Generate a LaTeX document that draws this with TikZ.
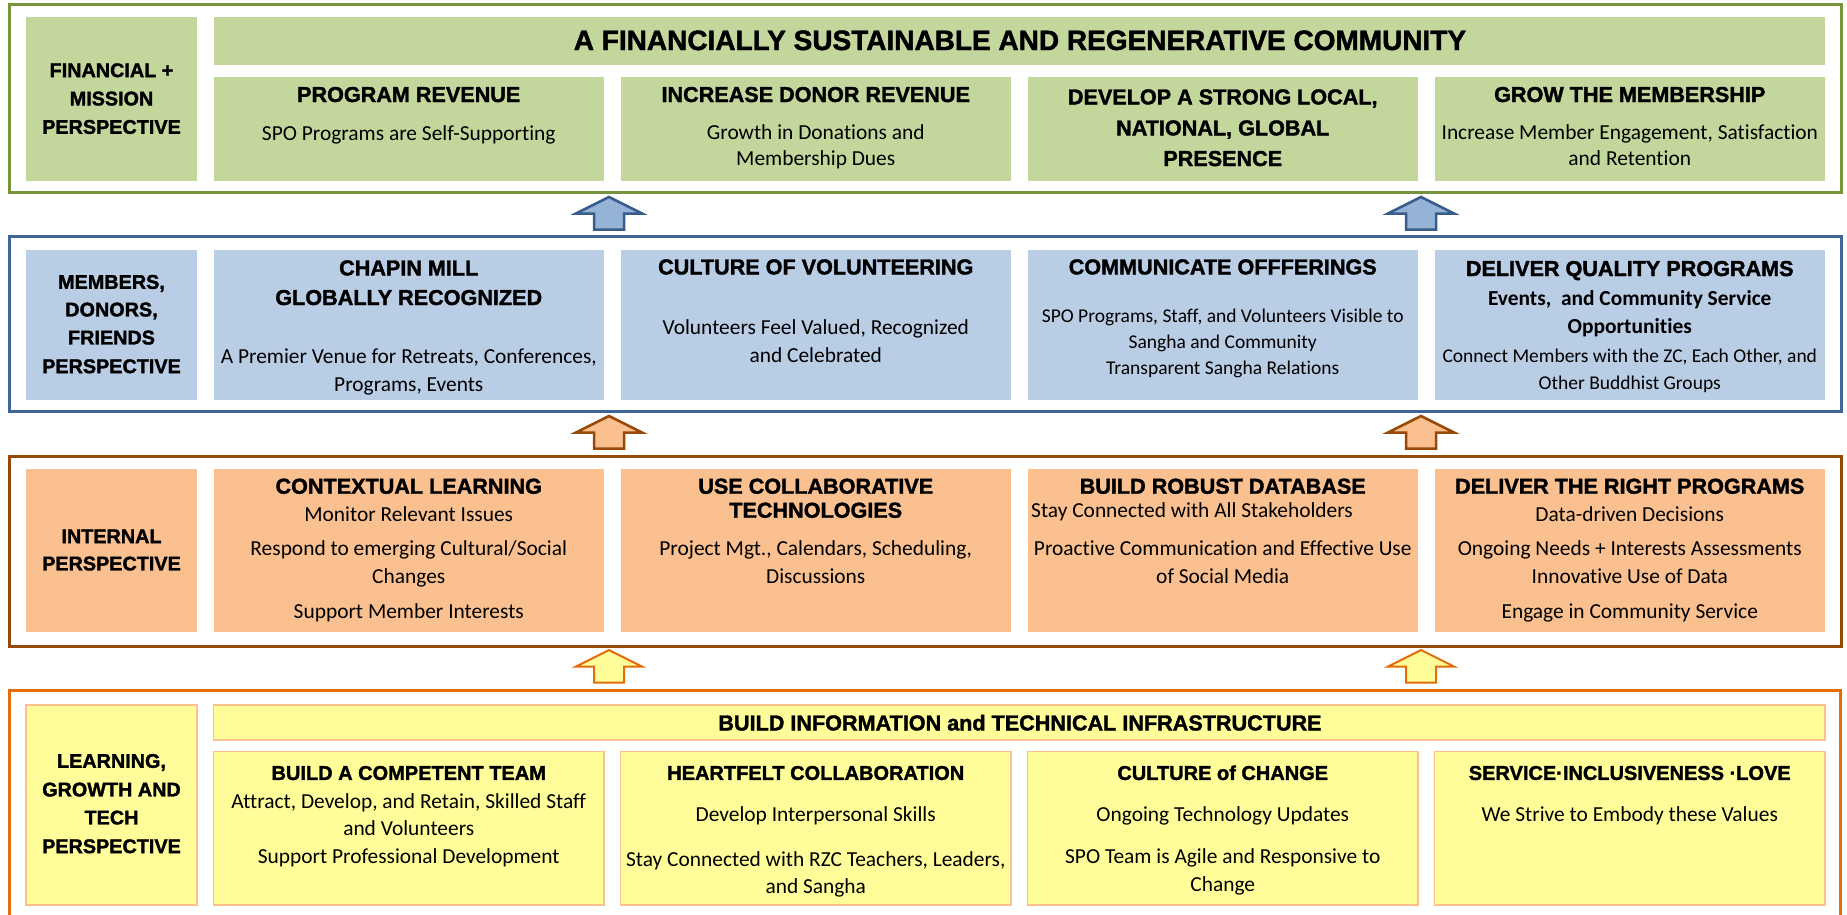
\documentclass[tikz,border=0pt]{standalone}
\usepackage{fontspec}
\setmainfont{Carlito}[Ligatures={NoCommon}]
\newfontfamily\hdfont{Liberation Sans}[BoldFeatures={FakeBold=1.6}]

\definecolor{grnFrame}{HTML}{77933C}
\definecolor{grnFill}{HTML}{C3D69B}
\definecolor{bluFrame}{HTML}{3E6696}
\definecolor{bluFill}{HTML}{B9CDE5}
\definecolor{bluArrow}{HTML}{95B3D7}
\definecolor{bluArrowLine}{HTML}{385D8A}
\definecolor{brnFrame}{HTML}{984807}
\definecolor{orgFill}{HTML}{FAC090}
\definecolor{ylwFrame}{HTML}{E46C0A}
\definecolor{ylwFill}{HTML}{FFFD99}
\definecolor{ylwEdge}{HTML}{FAC090}

\tikzset{
  frame/.style={line width=3pt},
  cell/.style={anchor=north west, inner sep=0pt, outer sep=0pt, minimum width=#1},
  lbl/.style={font=\hdfont\bfseries\fontsize{19.8}{24}\selectfont, anchor=base, yshift=-7.1pt, inner sep=0pt},
  hd/.style={font=\hdfont\bfseries\fontsize{21.6}{26}\selectfont, anchor=base, yshift=-7.7pt, inner sep=0pt},
  hdsm/.style={font=\hdfont\bfseries\fontsize{20}{24}\selectfont, anchor=base, yshift=-7.2pt, inner sep=0pt},
  ttl/.style={font=\hdfont\bfseries\fontsize{28}{32}\selectfont, anchor=base, yshift=-10pt, inner sep=0pt},
  bd/.style={font=\fontsize{21.4}{26}\selectfont, anchor=base, yshift=-6.5pt, inner sep=0pt},
  bdsm/.style={font=\fontsize{19.5}{24}\selectfont, anchor=base, yshift=-6pt, inner sep=0pt},
  bdb/.style={font=\bfseries\fontsize{21.4}{26}\selectfont, anchor=base, yshift=-6.5pt, inner sep=0pt},
  blockup/.pic={\path[pic actions] (0,0) -- (33,16.5) -- (15,16.5) -- (15,32.5)
      -- (-15,32.5) -- (-15,16.5) -- (-33,16.5) -- cycle;},
  upblue/.style={draw=bluArrowLine, fill=bluArrow, line width=2.5pt, line join=miter},
  uporange/.style={draw=brnFrame, fill=orgFill, line width=2.5pt, line join=miter},
  upyellow/.style={draw=ylwFrame, fill=ylwFill, line width=2pt, line join=miter},
}

\begin{document}
\begin{tikzpicture}[x=1pt,y=-1pt]
\useasboundingbox (0,0) rectangle (1847,914);
\fill[white] (0,0) rectangle (1847,914);

% column edges: label 26-197, four columns of 390.5 starting at 213.5 with a pitch of 407
% ---------------- financial + mission -----------------
\draw[frame, draw=grnFrame] (9,4) rectangle (1841,192.7);
\node[cell=171pt, minimum height=164pt, fill=grnFill] (fL) at (26,16.7) {};
\node[cell=1611.5pt, minimum height=48pt, fill=grnFill] (fT) at (213.5,16.7) {};
\node[cell=390.5pt, minimum height=103.7pt, fill=grnFill] (f1) at (213.5,77) {};
\node[cell=390.5pt, minimum height=103.7pt, fill=grnFill] (f2) at (620.5,77) {};
\node[cell=390.5pt, minimum height=103.7pt, fill=grnFill] (f3) at (1027.5,77) {};
\node[cell=390.5pt, minimum height=103.7pt, fill=grnFill] (f4) at (1434.5,77) {};

\node[lbl] (fLa) at (111.5,70) {FINANCIAL +};
\node[lbl] (fLb) at (111.5,98.3) {MISSION};
\node[lbl] (fLc) at (111.5,126.7) {PERSPECTIVE};
\node[ttl] (fTa) at (1020,40) {A FINANCIALLY SUSTAINABLE AND REGENERATIVE COMMUNITY};
\node[hd] (f1a) at (408.75,94.3) {PROGRAM REVENUE};
\node[bd] (f1b) at (408.75,134.3) {SPO Programs are Self-Supporting};
\node[hd] (f2a) at (815.75,94.3) {INCREASE DONOR REVENUE};
\node[bd] (f2b) at (815.75,132.7) {Growth in Donations and};
\node[bd] (f2c) at (815.75,159.3) {Membership Dues};
\node[hd] (f3a) at (1222.75,96.7) {DEVELOP A STRONG LOCAL,};
\node[hd] (f3b) at (1222.75,127.7) {NATIONAL, GLOBAL};
\node[hd] (f3c) at (1222.75,158.3) {PRESENCE};
\node[hd] (f4a) at (1629.75,94.3) {GROW THE MEMBERSHIP};
\node[bd] (f4b) at (1629.75,132.7) {Increase Member Engagement, Satisfaction};
\node[bd] (f4c) at (1629.75,159.3) {and Retention};

\pic[upblue] (au1) at (609,197) {blockup};
\pic[upblue] (au2) at (1421,197) {blockup};

% ---------------- members, donors, friends -----------------
\draw[frame, draw=bluFrame] (9,236.7) rectangle (1841,411.7);
\node[cell=171pt, minimum height=150pt, fill=bluFill] (mL) at (26,250) {};
\node[cell=390.5pt, minimum height=150pt, fill=bluFill] (m1) at (213.5,250) {};
\node[cell=390.5pt, minimum height=150pt, fill=bluFill] (m2) at (620.5,250) {};
\node[cell=390.5pt, minimum height=150pt, fill=bluFill] (m3) at (1027.5,250) {};
\node[cell=390.5pt, minimum height=150pt, fill=bluFill] (m4) at (1434.5,250) {};

\node[lbl] (mLa) at (111.5,281.7) {MEMBERS,};
\node[lbl] (mLb) at (111.5,309.3) {DONORS,};
\node[lbl] (mLc) at (111.5,337.3) {FRIENDS};
\node[lbl] (mLd) at (111.5,366) {PERSPECTIVE};
\node[hd] (m1a) at (408.75,267.7) {CHAPIN MILL};
\node[hd] (m1b) at (408.75,297.3) {GLOBALLY RECOGNIZED};
\node[bd] (m1c) at (408.75,356.7) {A Premier Venue for Retreats, Conferences,};
\node[bd] (m1d) at (408.75,385) {Programs, Events};
\node[hd] (m2a) at (815.75,266.7) {CULTURE OF VOLUNTEERING};
\node[bd] (m2b) at (815.75,328.3) {Volunteers Feel Valued, Recognized};
\node[bd] (m2c) at (815.75,356) {and Celebrated};
\node[hd] (m3a) at (1222.75,266.7) {COMMUNICATE OFFFERINGS};
\node[bdsm] (m3b) at (1222.75,316.7) {SPO Programs, Staff, and Volunteers Visible to};
\node[bdsm] (m3c) at (1222.75,342.7) {Sangha and Community};
\node[bdsm] (m3d) at (1222.75,368.3) {Transparent Sangha Relations};
\node[hd] (m4a) at (1629.75,268.3) {DELIVER QUALITY PROGRAMS};
\node[bdb] (m4b) at (1629.75,299) {Events,~ and Community Service};
\node[bdb] (m4c) at (1629.75,326.7) {Opportunities};
\node[bdsm] (m4d) at (1629.75,356.7) {Connect Members with the ZC, Each Other, and};
\node[bdsm] (m4e) at (1629.75,383.3) {Other Buddhist Groups};

\pic[uporange] (ao1) at (609,416) {blockup};
\pic[uporange] (ao2) at (1421,416) {blockup};

% ---------------- internal -----------------
\draw[frame, draw=brnFrame] (9,456.7) rectangle (1841,646);
\node[cell=171pt, minimum height=162.7pt, fill=orgFill] (iL) at (26,469) {};
\node[cell=390.5pt, minimum height=162.7pt, fill=orgFill] (i1) at (213.5,469) {};
\node[cell=390.5pt, minimum height=162.7pt, fill=orgFill] (i2) at (620.5,469) {};
\node[cell=390.5pt, minimum height=162.7pt, fill=orgFill] (i3) at (1027.5,469) {};
\node[cell=390.5pt, minimum height=162.7pt, fill=orgFill] (i4) at (1434.5,469) {};

\node[lbl] (iLa) at (111.5,536) {INTERNAL};
\node[lbl] (iLb) at (111.5,563.3) {PERSPECTIVE};
\node[hd] (i1a) at (408.75,486) {CONTEXTUAL LEARNING};
\node[bd] (i1b) at (408.75,515) {Monitor Relevant Issues};
\node[bd] (i1c) at (408.75,549.3) {Respond to emerging Cultural/Social};
\node[bd] (i1d) at (408.75,576.7) {Changes};
\node[bd] (i1e) at (408.75,612.3) {Support Member Interests};
\node[hd] (i2a) at (815.75,486) {USE COLLABORATIVE};
\node[hd] (i2b) at (815.75,510) {TECHNOLOGIES};
\node[bd] (i2c) at (815.75,549.3) {Project Mgt., Calendars, Scheduling,};
\node[bd] (i2d) at (815.75,576.7) {Discussions};
\node[hd] (i3a) at (1222.75,486) {BUILD ROBUST DATABASE};
\node[bd, anchor=base west] (i3b) at (1031,511) {Stay Connected with All Stakeholders};
\node[bd] (i3c) at (1222.75,549.3) {Proactive Communication and Effective Use};
\node[bd] (i3d) at (1222.75,576.7) {of Social Media};
\node[hd] (i4a) at (1629.75,486) {DELIVER THE RIGHT PROGRAMS};
\node[bd] (i4b) at (1629.75,515) {Data-driven Decisions};
\node[bd] (i4c) at (1629.75,549.3) {Ongoing Needs + Interests Assessments};
\node[bd] (i4d) at (1629.75,576.7) {Innovative Use of Data};
\node[bd] (i4e) at (1629.75,612.3) {Engage in Community Service};

\pic[upyellow] (ay1) at (609,650) {blockup};
\pic[upyellow] (ay2) at (1421,650) {blockup};

% ---------------- learning, growth and tech -----------------
\draw[frame, draw=ylwFrame] (9,916) -- (9,690.7) -- (1840,690.7) -- (1840,916);
\tikzset{ycell/.style={cell=#1, fill=ylwFill, draw=ylwEdge, line width=1.5pt}}
\node[ycell=171pt, minimum height=200pt] (lL) at (26,705) {};
\node[ycell=1611.5pt, minimum height=35pt] (lT) at (213.5,705) {};
\node[ycell=390.5pt, minimum height=153.3pt] (l1) at (213.5,751.7) {};
\node[ycell=390.5pt, minimum height=153.3pt] (l2) at (620.5,751.7) {};
\node[ycell=390.5pt, minimum height=153.3pt] (l3) at (1027.5,751.7) {};
\node[ycell=390.5pt, minimum height=153.3pt] (l4) at (1434.5,751.7) {};

\node[lbl] (lLa) at (111.5,760.7) {LEARNING,};
\node[lbl] (lLb) at (111.5,789.3) {GROWTH AND};
\node[lbl] (lLc) at (111.5,817.3) {TECH};
\node[lbl] (lLd) at (111.5,846) {PERSPECTIVE};
\node[hd] (lTa) at (1020,722.7) {BUILD INFORMATION and TECHNICAL INFRASTRUCTURE};
\node[hdsm] (l1a) at (408.75,772.7) {BUILD A COMPETENT TEAM};
\node[bd] (l1b) at (408.75,801.7) {Attract, Develop, and Retain, Skilled Staff};
\node[bd] (l1c) at (408.75,829.3) {and Volunteers};
\node[bd] (l1d) at (408.75,856.7) {Support Professional Development};
\node[hdsm] (l2a) at (815.75,772.7) {HEARTFELT COLLABORATION};
\node[bd] (l2b) at (815.75,815) {Develop Interpersonal Skills};
\node[bd] (l2c) at (815.75,860) {Stay Connected with RZC Teachers, Leaders,};
\node[bd] (l2d) at (815.75,887.3) {and Sangha};
\node[hdsm] (l3a) at (1222.75,772.7) {CULTURE of CHANGE};
\node[bd] (l3b) at (1222.75,815) {Ongoing Technology Updates};
\node[bd] (l3c) at (1222.75,856.7) {SPO Team is Agile and Responsive to};
\node[bd] (l3d) at (1222.75,885) {Change};
\node[hdsm] (l4a) at (1629.75,772.7) {SERVICE·INCLUSIVENESS ·LOVE};
\node[bd] (l4b) at (1629.75,815) {We Strive to Embody these Values};
\end{tikzpicture}
\end{document}
